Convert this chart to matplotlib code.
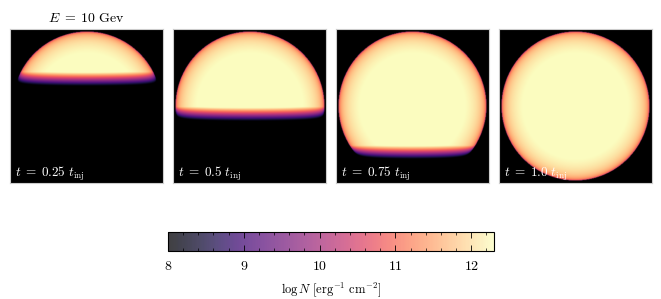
import numpy as np
import matplotlib
matplotlib.use("Agg")
import matplotlib.pyplot as plt
from matplotlib import cm, colors
from matplotlib.ticker import MultipleLocator, FixedLocator, FixedFormatter

plt.rcParams['mathtext.fontset'] = 'cm'
plt.rcParams['font.family'] = 'serif'

# snapshot times (in units of t_inj) and the height of the filled front (units of R)
times = [0.25, 0.5, 0.75, 1.0]
time_labels = ['0.25', '0.5', '0.75', '1.0']
front_height = [0.46, -0.01, -0.53, -1.2]
peak_logN = 12.6
cbar_ticks = [8, 9, 10, 11, 12]
vmin, vmax = 8.0, 12.3

W, H = 661, 299
fig = plt.figure(figsize=(W / 100, H / 100), dpi=100)

cmap = plt.get_cmap('magma').copy()
cmap.set_bad('black')
cmap.set_under('black')
norm = colors.Normalize(vmin=vmin, vmax=vmax)

n = 300
ext = 1.03
xx, yy = np.meshgrid(np.linspace(-ext, ext, n), np.linspace(-ext, ext, n))
r2 = xx**2 + yy**2

panel_left = [10, 173, 336, 499]
for i, t in enumerate(times):
    ax = fig.add_axes([panel_left[i] / W, (H - 183) / H, 153 / W, 154 / H])
    base = peak_logN + np.log10(np.clip(1 - r2, 1e-6, None))
    d = yy - front_height[i]
    field = base + 24 * np.minimum(d, 0)
    field = np.where(r2 < 1, field, np.nan)
    ax.imshow(field, origin='lower', extent=[-ext, ext, -ext, ext], cmap=cmap,
              norm=norm, interpolation='bilinear', aspect='auto')
    ax.set_xticks([])
    ax.set_yticks([])
    for s in ax.spines.values():
        s.set_color('0.8')
        s.set_linewidth(0.8)
    ax.text(0.03, 0.0, r'$t\;=\;%s\ t_{\rm inj}$' % time_labels[i], transform=ax.transAxes,
            color='white', fontsize=9.5, ha='left', va='bottom')
    if i == 0:
        ax.set_title(r'$E\;=\;10\ \mathrm{Gev}$', fontsize=10, pad=5)

cax = fig.add_axes([168 / W, (H - 251) / H, 326 / W, 19 / H])
sm = cm.ScalarMappable(norm=norm, cmap=plt.get_cmap('magma'))
cb = fig.colorbar(sm, cax=cax, orientation='horizontal', alpha=0.75)
cb.outline.set_linewidth(0.8)
cb.ax.xaxis.set_major_locator(FixedLocator(cbar_ticks))
cb.ax.xaxis.set_major_formatter(FixedFormatter(['$%d$' % v for v in cbar_ticks]))
cb.ax.xaxis.set_minor_locator(MultipleLocator(0.2))
cb.ax.tick_params(which='both', direction='in', top=True, bottom=True, labelsize=10, pad=6)
cb.ax.tick_params(which='major', length=4, width=0.6)
cb.ax.tick_params(which='minor', length=2, width=0.5)
cb.set_label(r'$\log N\ [\mathrm{erg}^{-1}\ \mathrm{cm}^{-2}]$', fontsize=9, labelpad=5)

fig.savefig('out.png', dpi=100)
